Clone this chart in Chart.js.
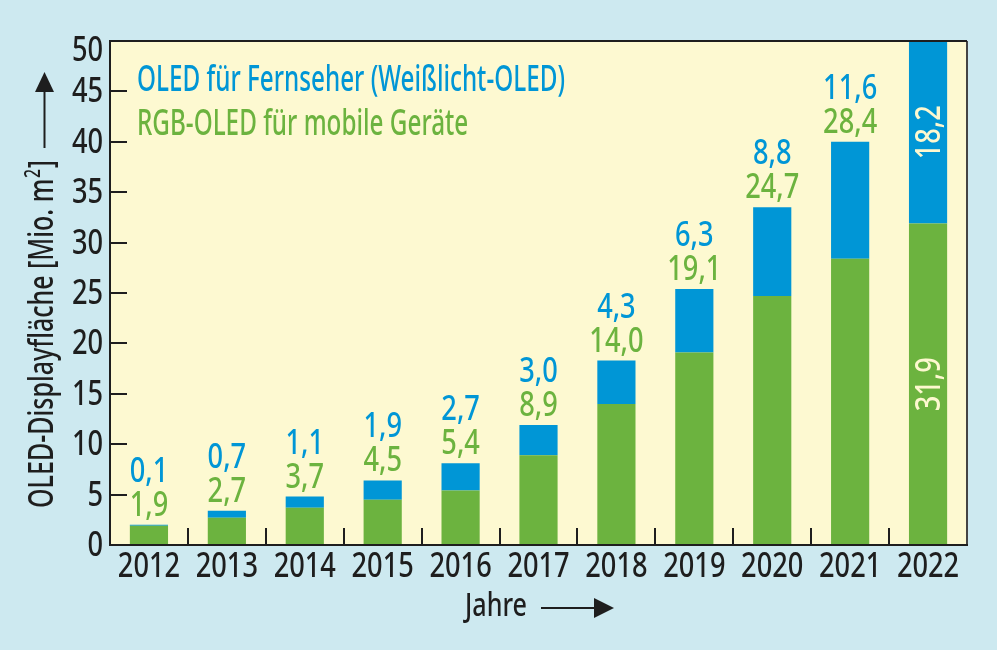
<!DOCTYPE html>
<html><head><meta charset="utf-8">
<script src="https://cdn.jsdelivr.net/npm/chart.js@4.4.0/dist/chart.umd.min.js"></script>
<style>html,body{margin:0;padding:0;background:#cde9f0;overflow:hidden}#wrap{width:997px;height:650px;position:relative}</style>
</head><body><div id="wrap"><canvas id="c" width="997" height="650"></canvas></div>
<script>
const years = ['2012','2013','2014','2015','2016','2017','2018','2019','2020','2021','2022'];
const rgbOled = [1.9, 2.7, 3.7, 4.5, 5.4, 8.9, 14.0, 19.1, 24.7, 28.4, 31.9];
const whiteOled = [0.1, 0.7, 1.1, 1.9, 2.7, 3.0, 4.3, 6.3, 8.8, 11.6, 18.2];
const yMin = 0, yMax = 50, yStep = 5;
const legendLabels = ['OLED für Fernseher (Weißlicht-OLED)', 'RGB-OLED für mobile Geräte'];
const yTitleParts = ['OLED-Displayfläche [Mio. m', '2', ']'];
const xTitle = 'Jahre';

const FONT = "'Noto Sans','DejaVu Sans',sans-serif";
const WEIGHT = '500';
const GREEN = '#6cb33f', BLUE = '#0096d6', DARK = '#1e1e1e', CREAM = '#fdf8cf';
const SX = 0.8;
const fmt = v => v.toFixed(1).replace('.', ',');

function txt(ctx, s, x, y, size, color, align, sx) {
  ctx.save();
  ctx.font = WEIGHT + ' ' + size + 'px ' + FONT;
  ctx.fillStyle = color;
  ctx.textAlign = align || 'left';
  ctx.textBaseline = 'alphabetic';
  ctx.translate(x, y);
  ctx.scale(sx || SX, 1);
  ctx.fillText(s, 0, 0);
  ctx.restore();
}
function widthOf(ctx, s, size) {
  ctx.save(); ctx.font = WEIGHT + ' ' + size + 'px ' + FONT; const w = ctx.measureText(s).width; ctx.restore(); return w;
}

const deco = {
  id: 'deco',
  beforeDraw(chart) {
    const {ctx, chartArea: a} = chart;
    ctx.save();
    ctx.fillStyle = '#cde9f0';
    ctx.fillRect(0, 0, chart.width, chart.height);
    ctx.fillStyle = '#fdf9d1';
    ctx.fillRect(a.left, a.top, a.right - a.left, a.bottom - a.top);
    ctx.restore();
  },
  afterDatasetsDraw(chart) {
    const {ctx, chartArea: a, scales: {x, y}} = chart;
    ctx.save();
    // frame
    ctx.lineWidth = 2;
    ctx.strokeStyle = '#444';
    ctx.beginPath(); ctx.moveTo(a.right, a.top); ctx.lineTo(a.right, a.bottom); ctx.stroke();
    ctx.strokeStyle = DARK;
    ctx.beginPath();
    ctx.moveTo(a.right, a.top); ctx.lineTo(a.left, a.top); ctx.lineTo(a.left, a.bottom); ctx.lineTo(a.right + 1, a.bottom);
    ctx.stroke();
    // y ticks (inner marks + labels)
    y.ticks.forEach(t => {
      const py = y.getPixelForValue(t.value);
      if (t.value > yMin && t.value < yMax) {
        const ry = Math.round(py);
        ctx.beginPath(); ctx.moveTo(a.left, ry); ctx.lineTo(a.left + 17, ry); ctx.stroke();
      }
      txt(ctx, String(t.value), a.left - 7, Math.max(py + 11, a.top + 20), 34, DARK, 'right');
    });
    // x ticks between categories + labels
    for (let i = 1; i < years.length; i++) {
      const px = Math.round((x.getPixelForValue(i - 1) + x.getPixelForValue(i)) / 2);
      ctx.beginPath(); ctx.moveTo(px, a.bottom); ctx.lineTo(px, a.bottom - 17); ctx.stroke();
    }
    x.ticks.forEach((t, i) => {
      txt(ctx, x.getLabelForValue(t.value), x.getPixelForTick(i), a.bottom + 32, 34, DARK, 'center');
    });
    // data labels
    years.forEach((yr, i) => {
      const total = rgbOled[i] + whiteOled[i];
      const cx = x.getPixelForValue(i);
      if (total <= yMax) {
        const top = y.getPixelForValue(total);
        txt(ctx, fmt(rgbOled[i]), cx, top - 9, 34, GREEN, 'center');
        txt(ctx, fmt(whiteOled[i]), cx, top - 43, 34, BLUE, 'center');
      } else {
        const gTop = y.getPixelForValue(rgbOled[i]);
        const gMid = (gTop + y.getPixelForValue(0)) / 2;
        const bMid = (gTop + y.getPixelForValue(yMax)) / 2;
        [[rgbOled[i], gMid], [whiteOled[i], bMid]].forEach(([v, my]) => {
          ctx.save(); ctx.translate(cx + 12, my); ctx.rotate(-Math.PI / 2);
          txt(ctx, fmt(v), 0, 0, 34, CREAM, 'center');
          ctx.restore();
        });
      }
    });
    // legend text
    const lsx = 428 / widthOf(ctx, legendLabels[0], 36);
    txt(ctx, legendLabels[0], 137, 91, 36, BLUE, 'left', lsx);
    txt(ctx, legendLabels[1], 137, 135, 36, GREEN, 'left', lsx);
    // y title
    const w0 = widthOf(ctx, yTitleParts[0], 35), w1 = widthOf(ctx, yTitleParts[1], 22), w2 = widthOf(ctx, yTitleParts[2], 35);
    const tsx = 348 / (w0 + w1 + w2 + 2);
    ctx.save(); ctx.translate(53, 508); ctx.rotate(-Math.PI / 2);
    txt(ctx, yTitleParts[0], 0, 0, 35, DARK, 'left', tsx);
    txt(ctx, yTitleParts[1], (w0 + 1) * tsx, -13, 22, DARK, 'left', tsx);
    txt(ctx, yTitleParts[2], (w0 + w1 + 2) * tsx, 0, 35, DARK, 'left', tsx);
    ctx.restore();
    // y arrow
    ctx.strokeStyle = DARK; ctx.lineWidth = 2;
    ctx.beginPath(); ctx.moveTo(44.5, 148); ctx.lineTo(44.5, 88); ctx.stroke();
    ctx.fillStyle = DARK;
    ctx.beginPath(); ctx.moveTo(44.5, 72); ctx.lineTo(35, 92); ctx.lineTo(54, 92); ctx.closePath(); ctx.fill();
    // x title
    txt(ctx, xTitle, 465, 616, 33, DARK, 'left', 62 / widthOf(ctx, xTitle, 33));
    ctx.beginPath(); ctx.moveTo(541, 608); ctx.lineTo(598, 608); ctx.stroke();
    ctx.beginPath(); ctx.moveTo(614, 608); ctx.lineTo(594, 598); ctx.lineTo(594, 618); ctx.closePath(); ctx.fill();
    ctx.restore();
  }
};

new Chart(document.getElementById('c'), {
  type: 'bar',
  data: {
    labels: years,
    datasets: [
      {label: legendLabels[1], data: rgbOled, backgroundColor: GREEN, borderWidth: 0, categoryPercentage: 1, barPercentage: 0.49},
      {label: legendLabels[0], data: whiteOled, backgroundColor: BLUE, borderWidth: 0, categoryPercentage: 1, barPercentage: 0.49}
    ]
  },
  options: {
    responsive: false,
    animation: false,
    devicePixelRatio: 1,
    layout: {padding: {top: 41, right: 30, left: 0, bottom: 0}},
    plugins: {legend: {display: false}, tooltip: {enabled: false}},
    scales: {
      x: {
        stacked: true,
        grid: {display: false, drawTicks: false},
        border: {display: false},
        ticks: {display: false, autoSkip: false, maxRotation: 0},
        afterFit(s) { s.height = 105; }
      },
      y: {
        stacked: true,
        min: yMin, max: yMax,
        grid: {display: false, drawTicks: false},
        border: {display: false},
        ticks: {display: false, stepSize: yStep},
        afterFit(s) { s.width = 110; }
      }
    }
  },
  plugins: [deco]
});
</script></body></html>
